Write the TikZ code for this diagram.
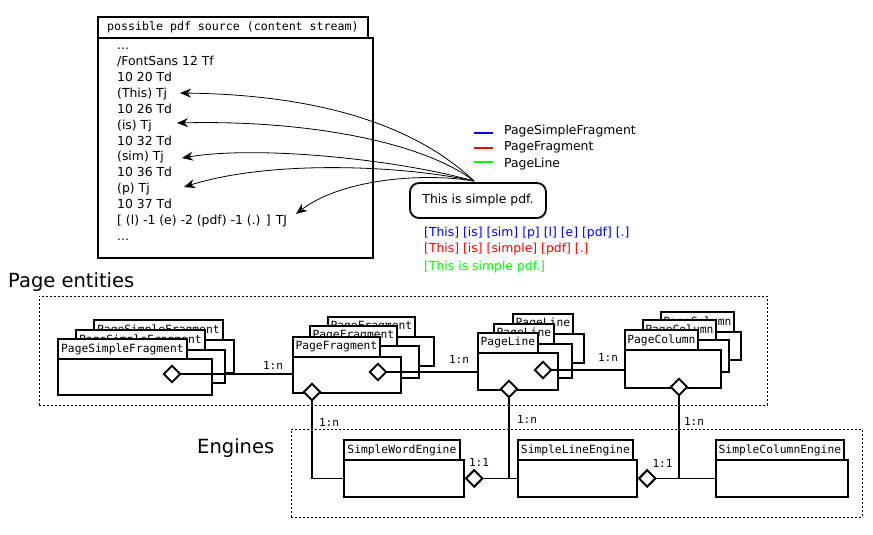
\documentclass[tikz,border=0pt]{standalone}
\usepackage{fontspec}
\setmainfont{DejaVu Sans}
\setmonofont{DejaVu Sans Mono}
\usetikzlibrary{shapes.geometric,arrows.meta}
\newcommand{\umlcls}[7]{%
  \node[umlhead, minimum width=#4pt, anchor=north west] (#1h) at (#2,#3) {#7};
  \node[umlbody, minimum width=#5pt, minimum height=#6pt, anchor=north west] (#1) at (#2,#3+20) {};
}
\begin{document}
\begin{tikzpicture}[x=1pt,y=-1pt,
  umlhead/.style={draw, line width=1.8pt, fill=white, minimum height=20pt, inner sep=0pt, font=\fontsize{11.3}{13}\ttfamily},
  umlbody/.style={draw, line width=1.8pt, fill=white, inner sep=0pt},
  dia/.style={diamond, aspect=1, draw, line width=1.8pt, fill=white, minimum size=17pt, inner sep=0pt},
  conn/.style={line width=1.8pt},
  card/.style={font=\fontsize{11}{13}\ttfamily, inner sep=0pt},
  group/.style={draw, line width=0.8pt, dash pattern=on 2pt off 2pt, inner sep=0pt},
  srctxt/.style={font=\fontsize{12.4}{14}\selectfont, anchor=base west, inner sep=0pt},
  ptr/.style={line width=0.8pt, -{Stealth[length=11pt,width=9pt]}},
  heading/.style={font=\fontsize{19.5}{22}\selectfont, anchor=base west, inner sep=0pt},
  ]
\fill[white] (0,0) rectangle (873,535);
\useasboundingbox (0,0) rectangle (873,535);

% ---------- pdf source ----------
\node[umlhead, font=\fontsize{11.6}{13}\ttfamily, minimum width=270pt, minimum height=21pt, anchor=north west] (srch) at (97,16) {possible pdf source (content stream)};
\node[draw, line width=1.8pt, minimum width=275pt, minimum height=220pt, anchor=north west, inner sep=0pt] (srcbox) at (97,37) {};
\node[srctxt] (s1) at (117,50) {...};
\node[srctxt] (s2) at (117,65.8) {/FontSans 12 Tf};
\node[srctxt] (s3) at (117,81.7) {10 20 Td};
\node[srctxt] (s4) at (117,97.5) {(This) Tj};
\node[srctxt] (s5) at (117,113.3) {10 26 Td};
\node[srctxt] (s6) at (117,129.2) {(is) Tj};
\node[srctxt] (s7) at (117,145) {10 32 Td};
\node[srctxt] (s8) at (117,160.8) {(sim) Tj};
\node[srctxt] (s9) at (117,176.6) {10 36 Td};
\node[srctxt] (s10) at (117,192.5) {(p) Tj};
\node[srctxt] (s11) at (117,208.3) {10 37 Td};
\node[srctxt] (s12) at (117,224.1) {[ (l) -1 (e) -2 (pdf) -1 (.) ] TJ};
\node[srctxt] (s13) at (117,240) {...};

% ---------- simple pdf box ----------
\node[draw, line width=1.8pt, rounded corners=9pt, minimum width=136pt, minimum height=35pt, inner sep=0pt, font=\fontsize{12.4}{14}\selectfont] (simple) at (478,200.5) {This is simple pdf.};
\coordinate (org) at (474,181);
\coordinate (tThis) at (180,93);
\coordinate (tIs) at (177,123);
\coordinate (tSim) at (182,158);
\coordinate (tP) at (184,187);
\coordinate (tTJ) at (296,214);
\draw[ptr] (org) .. controls (420,130) and (330,95) .. (tThis);
\draw[ptr] (org) .. controls (420,140) and (300,120) .. (tIs);
\draw[ptr] (org) .. controls (400,160) and (260,145) .. (tSim);
\draw[ptr] (org) .. controls (400,165) and (270,160) .. (tP);
\draw[ptr] (org) .. controls (420,172) and (340,180) .. (tTJ);

% ---------- legend ----------
\draw[line width=2pt, blue] (474,132.7) -- (493,132.7);
\draw[line width=2pt, red] (474,147.7) -- (493,147.7);
\draw[line width=2pt, green] (474,162.3) -- (493,162.3);
\node[srctxt] (lg1) at (504,134.5) {PageSimpleFragment};
\node[srctxt] (lg2) at (504,150.7) {PageFragment};
\node[srctxt] (lg3) at (504,167) {PageLine};
\node[srctxt, text=blue] (c1) at (424,236.7) {[This] [is] [sim] [p] [l] [e] [pdf] [.]};
\node[srctxt, text=red] (c2) at (424,252.7) {[This] [is] [simple] [pdf] [.]};
\node[srctxt, text=green] (c3) at (424,270.5) {[This is simple pdf.]};

% ---------- groups ----------
\node[heading] (hpe) at (8,287) {Page entities};
\node[heading] (hen) at (197,453) {Engines};
\node[group, minimum width=728pt, minimum height=109pt, anchor=north west] (gpe) at (39,296) {};
\node[group, minimum width=571pt, minimum height=88pt, anchor=north west] (gen) at (291,429) {};

% ---------- page entity classes ----------
\umlcls{psfA}{93}{319}{129}{140}{33}{PageSimpleFragment}
\umlcls{psfB}{75}{329}{129}{149}{33}{PageSimpleFragment}
\umlcls{psf}{57}{338}{129}{154}{36}{PageSimpleFragment}

\umlcls{pfA}{327}{316}{87}{106}{29}{PageFragment}
\umlcls{pfB}{309}{325}{87}{109}{32}{PageFragment}
\umlcls{pf}{292}{336}{87}{108}{36}{PageFragment}

\umlcls{plA}{512}{313}{60}{71}{29}{PageLine}
\umlcls{plB}{493}{323}{60}{78}{34}{PageLine}
\umlcls{pl}{477}{332}{60}{80}{37}{PageLine}

\umlcls{pcA}{660}{311}{73}{80}{28}{PageColumn}
\umlcls{pcB}{642}{319}{73}{86}{32}{PageColumn}
\umlcls{pc}{624}{329}{73}{96}{38}{PageColumn}

% ---------- engines ----------
\umlcls{swe}{343}{439}{116}{120}{37}{SimpleWordEngine}
\umlcls{sle}{517}{439}{115}{119}{37}{SimpleLineEngine}
\umlcls{sce}{715}{439}{128}{132}{37}{SimpleColumnEngine}

% ---------- diamonds ----------
\node[dia] (psfd) at (172,374) {};
\node[dia] (pfd) at (378,372) {};
\node[dia] (pld) at (543,370) {};
\node[dia] (pfdb) at (312,392) {};
\node[dia] (pldb) at (509,389) {};
\node[dia] (pcdb) at (679,387) {};
\node[dia, anchor=west] (swed) at (swe.east) {};
\node[dia, anchor=west] (sled) at (sle.east) {};

% ---------- connectors ----------
\draw[conn] (psfd.east) -- (psfd.east -| pf.west);
\draw[conn] (pfd.east) -- (pfd.east -| pl.west);
\draw[conn] (pld.east) -- (pld.east -| pc.west);
\draw[conn] (pfdb.south) |- (swe.west);
\draw[conn] (swed.east) -- (sle.west);
\draw[conn] (pldb.south) -- (pldb.south |- swed.east);
\draw[conn] (sled.east) -- (sce.west);
\draw[conn] (pcdb.south) -- (pcdb.south |- sled.east);

% redraw diamonds on top
\node[dia] at (psfd) {};
\node[dia] at (pfd) {};
\node[dia] at (pld) {};
\node[dia] at (pfdb) {};
\node[dia] at (pldb) {};
\node[dia] at (pcdb) {};
\node[dia] at (swed) {};
\node[dia] at (sled) {};

% ---------- cardinalities ----------
\node[card] (k1) at (273,365) {1:n};
\node[card] (k2) at (459,359) {1:n};
\node[card] (k3) at (608,357) {1:n};
\node[card] (k4) at (329,422) {1:n};
\node[card] (k5) at (479,462) {1:1};
\node[card] (k6) at (527,419) {1:n};
\node[card] (k7) at (662.5,463) {1:1};
\node[card] (k8) at (694,421) {1:n};
\end{tikzpicture}
\end{document}
